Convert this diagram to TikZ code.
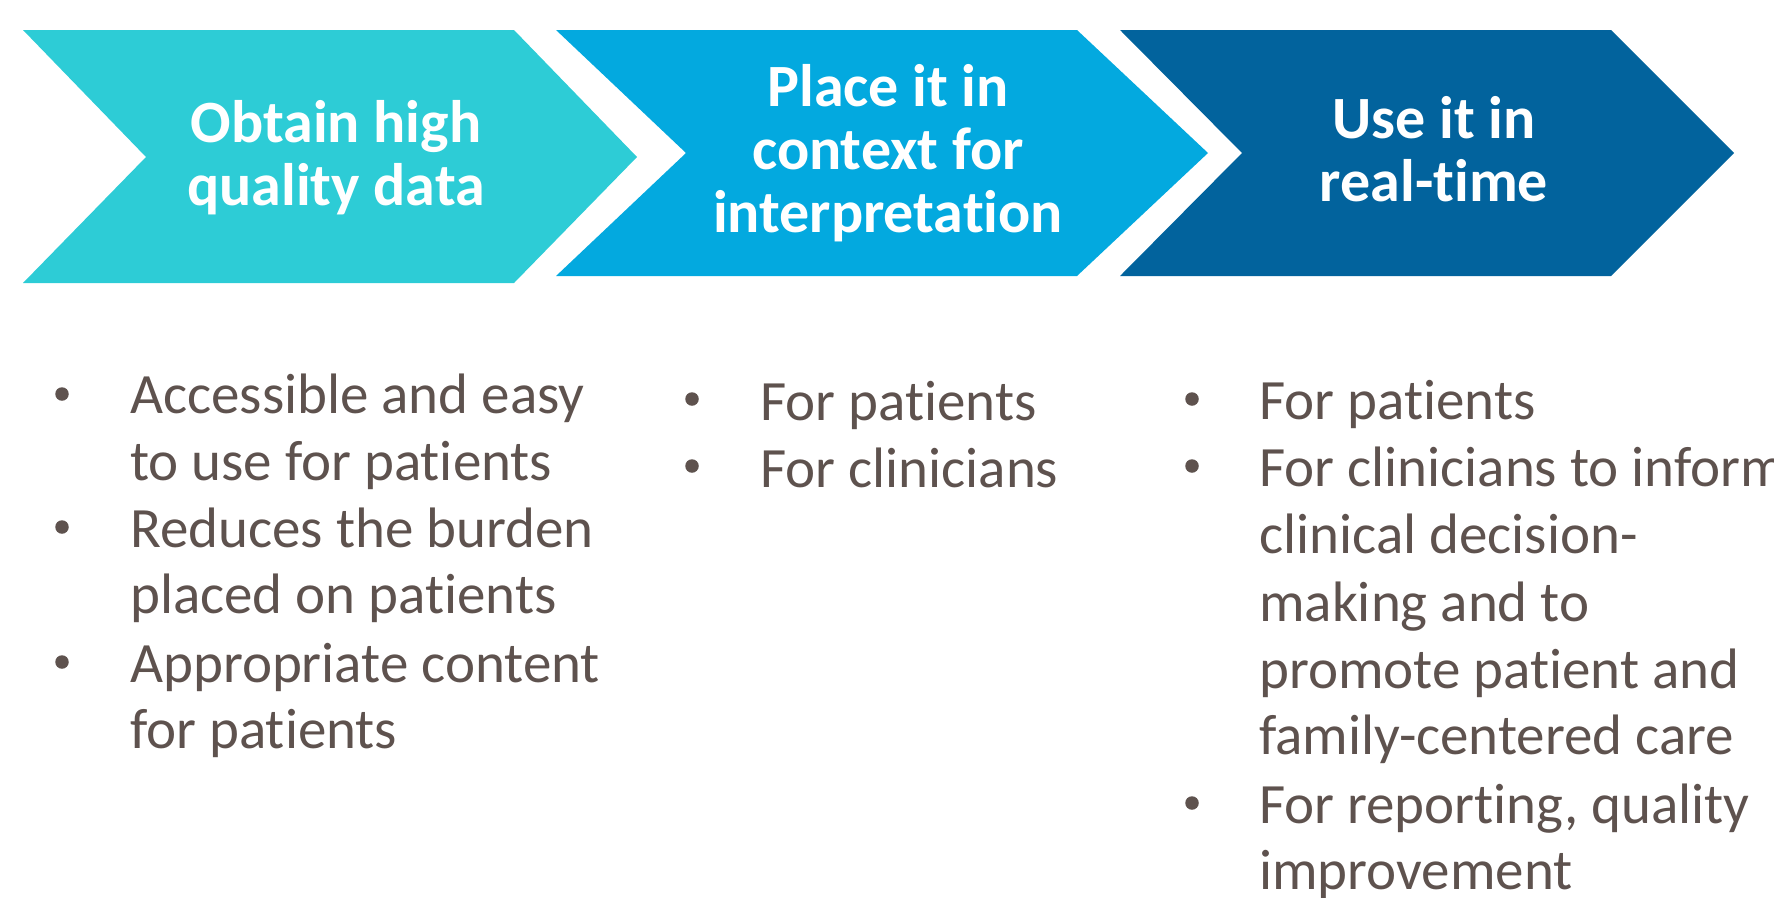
\documentclass[tikz,border=0pt]{standalone}
\usepackage{fontspec}
\setmainfont{Carlito}[RawFeature={-liga;-clig}]
\definecolor{cA}{HTML}{2DCCD6}
\definecolor{cB}{HTML}{03A9DF}
\definecolor{cC}{HTML}{02639D}
\definecolor{bodycol}{HTML}{5E524E}
\newcommand{\headfnt}{\fontsize{60}{63}\selectfont\bfseries}
\newcommand{\bodyfnt}{\fontsize{57}{67}\selectfont}
\begin{document}
\begin{tikzpicture}[x=1pt,y=-1pt,
  head/.style={font=\headfnt, text=white, anchor=base, inner sep=0pt},
  body/.style={font=\bodyfnt, text=bodycol, anchor=base west, inner sep=0pt},
  dot/.style={circle, fill=bodycol, inner sep=0pt, minimum size=13.5pt}]
\useasboundingbox (0,0) rectangle (1774,897);
% chevrons
\fill[cA] (23,30) -- (514,30) -- (637,157) -- (514,283) -- (23,283) -- (146,157) -- cycle;
\fill[cB] (556,30) -- (1077,30) -- (1208,153) -- (1077,276) -- (556,276) -- (686,153) -- cycle;
\fill[cC] (1120,30) -- (1611,30) -- (1734,153) -- (1611,276) -- (1120,276) -- (1242,153) -- cycle;
% headings
\node[head] (h1a) at (336,142) {Obtain high};
\node[head] (h1b) at (336,205) {quality data};
\node[head] (h2a) at (888,106) {Place it in};
\node[head] (h2b) at (888,169) {context for};
\node[head] (h2c) at (888,232) {interpretation};
\node[head] (h3a) at (1434,138) {Use it in};
\node[head] (h3b) at (1434,201) {real-time};
% column 1
\node[dot] (d1a) at (62,394) {};
\node[body] (t1a) at (130,413) {Accessible and easy};
\node[body] (t1b) at (130,480) {to use for patients};
\node[dot] (d1b) at (62,527) {};
\node[body] (t1c) at (130,547) {Reduces the burden};
\node[body] (t1d) at (130,613) {placed on patients};
\node[dot] (d1c) at (62,662) {};
\node[body] (t1e) at (130,682) {Appropriate content};
\node[body] (t1f) at (130,748) {for patients};
% column 2
\node[dot] (d2a) at (692,399) {};
\node[body] (t2a) at (760,420) {For patients};
\node[dot] (d2b) at (692,466) {};
\node[body] (t2b) at (760,487) {For clinicians};
% column 3
\node[dot] (d3a) at (1192,399) {};
\node[body] (t3a) at (1259,419) {For patients};
\node[dot] (d3b) at (1192,466) {};
\node[body] (t3b) at (1259,486) {For clinicians to inform};
\node[body] (t3c) at (1259,553) {clinical decision-};
\node[body] (t3d) at (1259,621) {making and to};
\node[body] (t3e) at (1259,688) {promote patient and};
\node[body] (t3f) at (1259,754) {family-centered care};
\node[dot] (d3c) at (1192,803) {};
\node[body] (t3g) at (1259,823) {For reporting, quality};
\node[body] (t3h) at (1259,889) {improvement};
\end{tikzpicture}
\end{document}
